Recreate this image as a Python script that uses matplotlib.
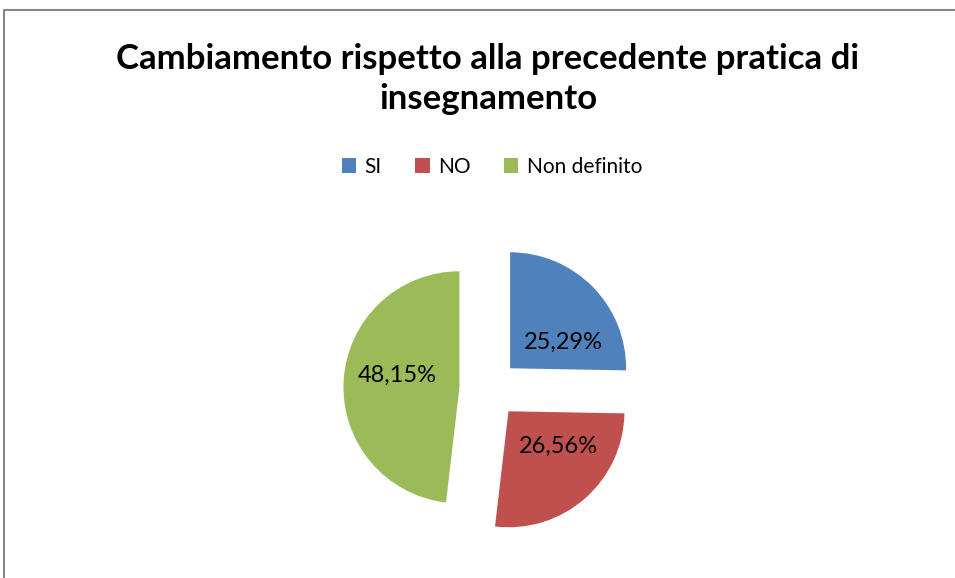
import matplotlib
matplotlib.use("Agg")
from matplotlib import pyplot as plt
from matplotlib.lines import Line2D

labels = ["SI", "NO", "Non definito"]
values = [25.29, 26.56, 48.15]
colors = ["#4f81bd", "#c0504d", "#9bbb59"]
title = "Cambiamento rispetto alla precedente pratica di\ninsegnamento"

plt.rcParams["font.family"] = ["Lato", "DejaVu Sans"]

fig = plt.figure(figsize=(9.55, 5.78), dpi=100)
ax = fig.add_axes([0, 0, 1, 1])

r = 116
# explode is in data units here, so scale by the radius
wedges, texts, pcts = ax.pie(values, colors=colors, startangle=90, counterclock=False,
                             explode=[0.255 * r] * 3, radius=r, center=(489, 189),
                             autopct=lambda p: f"{p:.2f}%".replace(".", ","),
                             pctdistance=0.53, textprops={"fontsize": 17, "color": "black"},
                             wedgeprops={"linewidth": 0})
# pie() resets the limits, so set the pixel-like frame afterwards
ax.set_xlim(0, 955)
ax.set_ylim(0, 578)
ax.set_aspect("equal")
ax.axis("off")

# Excel's "best fit" label placement differs a bit from matplotlib's
for t, (dx, dy) in zip(pcts, [(9, -17), (10, 11), (-1, 8)]):
    x, y = t.get_position()
    t.set_position((x + dx, y + dy))

fig.text(0.511, 1 - 43 / 578, title, ha="center", va="top", fontsize=25, fontweight="bold",
         linespacing=1.32)

fig.legend(wedges, labels, loc="center", bbox_to_anchor=(0.515, 1 - 167 / 578), ncol=3,
           frameon=False, fontsize=15, handlelength=0.7, handleheight=0.7,
           handletextpad=0.4, columnspacing=1.6)

# partial chart-area border (top and left edges visible)
fig.add_artist(Line2D([4 / 955, 4 / 955, 1], [0, 1 - 10 / 578, 1 - 10 / 578],
                      transform=fig.transFigure, color="#868686", linewidth=1.5))

fig.savefig("out.png", dpi=100, facecolor="white")
